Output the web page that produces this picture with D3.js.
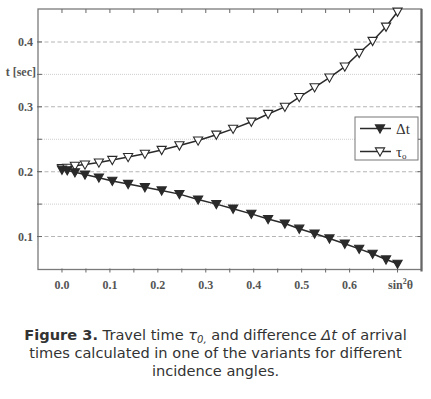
<!DOCTYPE html>
<html>
<head>
<meta charset="utf-8">
<script src="https://cdn.jsdelivr.net/npm/d3@7"></script>
<style>
  body { margin: 0; background: #fff; }
  svg { display: block; }
  .tick-label { font-family: "Liberation Serif", serif; font-weight: bold; font-size: 12px; fill: #555; }
  .caption { font-family: "DejaVu Sans", Verdana, sans-serif; font-size: 14.6px; fill: #333; }
</style>
</head>
<body>
<div id="chart"></div>
<script>
// values
const sinSq = [0.0, 0.011, 0.027, 0.048, 0.077, 0.105, 0.138, 0.173, 0.208, 0.245, 0.284, 0.322,
               0.357, 0.395, 0.43, 0.465, 0.495, 0.527, 0.558, 0.59, 0.62, 0.648, 0.676, 0.70];
const tau0 = [0.2055, 0.2058, 0.209, 0.211, 0.214, 0.218, 0.2225, 0.2275, 0.2335, 0.2405, 0.248, 0.257,
              0.266, 0.277, 0.289, 0.300, 0.315, 0.330, 0.345, 0.362, 0.383, 0.4015, 0.4235, 0.4466];
const deltaT = [0.203, 0.202, 0.199, 0.1955, 0.1908, 0.1858, 0.181, 0.176, 0.171, 0.1654, 0.157, 0.150,
                0.143, 0.135, 0.127, 0.120, 0.112, 0.1046, 0.097, 0.089, 0.081, 0.0734, 0.0646, 0.058];
const xTicks = [0.0, 0.1, 0.2, 0.3, 0.4, 0.5, 0.6];
const yMajor = [0.1, 0.2, 0.3, 0.4];
const yMinor = [0.15, 0.25, 0.35];

const W = 431, H = 399;
const plot = { left: 38, top: 9, right: 421.5, bottom: 269.5 };

const svg = d3.select("#chart").append("svg")
    .attr("width", W)
    .attr("height", H);

svg.append("rect").attr("width", W).attr("height", H).attr("fill", "#fff");

// scales
const x = d3.scaleLinear().domain([-0.05, 0.75]).range([plot.left, plot.right]);
const y = d3.scaleLinear().domain([0.0492, 0.4508]).range([plot.bottom, plot.top]);

// grid lines, dashed at major values, dotted in between
svg.append("g").selectAll("line")
    .data(yMajor)
    .enter().append("line")
    .attr("x1", plot.left).attr("x2", plot.right)
    .attr("y1", d => y(d)).attr("y2", d => y(d))
    .attr("stroke", "#b5b5b5").attr("stroke-width", 1.1)
    .attr("stroke-dasharray", "4,2.5");

svg.append("g").selectAll("line")
    .data(yMinor)
    .enter().append("line")
    .attr("x1", plot.left).attr("x2", plot.right)
    .attr("y1", d => y(d)).attr("y2", d => y(d))
    .attr("stroke", "#c8c8c8").attr("stroke-width", 0.9)
    .attr("stroke-dasharray", "1,1");

// frame
svg.append("rect")
    .attr("x", plot.left).attr("y", plot.top)
    .attr("width", plot.right - plot.left).attr("height", plot.bottom - plot.top)
    .attr("fill", "none").attr("stroke", "#7a7a7a").attr("stroke-width", 1.3);
svg.append("line")
    .attr("x1", plot.right).attr("x2", plot.right)
    .attr("y1", plot.top).attr("y2", plot.bottom + 2)
    .attr("stroke", "#666").attr("stroke-width", 2.2);

// tick marks every 0.05
const xAll = d3.range(0, 0.701, 0.05);
const yAll = d3.range(0.1, 0.401, 0.05);
const tickColor = "#666";

svg.append("g").selectAll("line")
    .data(xAll).enter().append("line")
    .attr("x1", d => x(d)).attr("x2", d => x(d))
    .attr("y1", plot.bottom - 1).attr("y2", plot.bottom + 3)
    .attr("stroke", tickColor).attr("stroke-width", 1);
svg.append("g").selectAll("line")
    .data(xAll).enter().append("line")
    .attr("x1", d => x(d)).attr("x2", d => x(d))
    .attr("y1", plot.top).attr("y2", plot.top + 4)
    .attr("stroke", tickColor).attr("stroke-width", 1);
svg.append("g").selectAll("line")
    .data(yAll).enter().append("line")
    .attr("x1", plot.left - 1).attr("x2", plot.left + 4)
    .attr("y1", d => y(d)).attr("y2", d => y(d))
    .attr("stroke", tickColor).attr("stroke-width", 1);
svg.append("g").selectAll("line")
    .data(yAll).enter().append("line")
    .attr("x1", plot.right - 4).attr("x2", plot.right)
    .attr("y1", d => y(d)).attr("y2", d => y(d))
    .attr("stroke", tickColor).attr("stroke-width", 1);

// tick labels
svg.append("g").selectAll("text")
    .data(yMajor).enter().append("text")
    .attr("class", "tick-label")
    .attr("x", 33).attr("y", d => y(d))
    .attr("dy", "0.33em")
    .attr("text-anchor", "end")
    .text(d => d.toFixed(1));

svg.append("g").selectAll("text")
    .data(xTicks).enter().append("text")
    .attr("class", "tick-label")
    .attr("x", d => x(d)).attr("y", 288.5)
    .attr("text-anchor", "middle")
    .text(d => d.toFixed(1));

// axis titles
svg.append("text")
    .attr("class", "tick-label")
    .attr("x", 36).attr("y", y(0.35))
    .attr("dy", "0.15em")
    .attr("text-anchor", "end")
    .text("t [sec]");

const xt = svg.append("text")
    .attr("class", "tick-label")
    .attr("x", x(0.7) + 3).attr("y", 288.5)
    .attr("text-anchor", "middle");
xt.append("tspan").text("sin");
xt.append("tspan").attr("font-size", "8px").attr("dy", "-5").text("2");
xt.append("tspan").attr("dy", "5").text("θ");

// series
const line = d3.line().x(d => x(d[0])).y(d => y(d[1]));
const tauData = sinSq.map((s, i) => [s, tau0[i]]);
const dtData = sinSq.map((s, i) => [s, deltaT[i]]);

// downward triangle path centred at 0,0
const tri = "M-4.6,-3.6 L4.6,-3.6 L0,4.6 Z";

function drawSeries(data, fill) {
    svg.append("path")
        .datum(data)
        .attr("d", line)
        .attr("fill", "none")
        .attr("stroke", "#2a2a2a")
        .attr("stroke-width", 1.5);
    svg.append("g").selectAll("path")
        .data(data).enter().append("path")
        .attr("d", tri)
        .attr("transform", d => `translate(${x(d[0])},${y(d[1])})`)
        .attr("fill", fill)
        .attr("stroke", "#2a2a2a")
        .attr("stroke-width", 1.1);
}
drawSeries(tauData, "#fff");
drawSeries(dtData, "#2a2a2a");

// legend
const legend = svg.append("g");
legend.append("rect")
    .attr("x", 355).attr("y", 117)
    .attr("width", 63).attr("height", 43)
    .attr("fill", "#fff").attr("stroke", "#777").attr("stroke-width", 1);

const legendItems = [
    { label: "Δt", fill: "#2a2a2a", y: 128.5 },
    { label: "τ", fill: "#fff", y: 151.5, sub: "o" }
];
legendItems.forEach(it => {
    legend.append("line")
        .attr("x1", 360).attr("x2", 391)
        .attr("y1", it.y).attr("y2", it.y)
        .attr("stroke", "#2a2a2a").attr("stroke-width", 1.5);
    legend.append("path")
        .attr("d", tri)
        .attr("transform", `translate(380,${it.y})`)
        .attr("fill", it.fill).attr("stroke", "#2a2a2a").attr("stroke-width", 1.1);
    const t = legend.append("text")
        .attr("x", 396).attr("y", it.y)
        .attr("dy", "0.35em")
        .attr("font-family", "Liberation Serif, serif")
        .attr("font-size", "15px")
        .attr("fill", "#333")
        .text(it.label);
    if (it.sub) {
        t.append("tspan").attr("font-size", "9px").attr("dy", "2").text(it.sub);
    }
});

// caption
const cap1 = svg.append("text").attr("class", "caption")
    .attr("x", W / 2).attr("y", 340).attr("text-anchor", "middle");
cap1.append("tspan").attr("font-weight", "bold").text("Figure 3.");
cap1.append("tspan").text(" Travel time ");
cap1.append("tspan").attr("font-style", "italic").text("τ");
cap1.append("tspan").attr("font-style", "italic").attr("font-size", "10px").attr("dy", "3").text("0,");
cap1.append("tspan").attr("dy", "-3").text(" and difference ");
cap1.append("tspan").attr("font-style", "italic").text("Δt");
cap1.append("tspan").text(" of arrival");

svg.append("text").attr("class", "caption")
    .attr("x", W / 2).attr("y", 358).attr("text-anchor", "middle")
    .text("times calculated in one of the variants for different");

svg.append("text").attr("class", "caption")
    .attr("x", W / 2).attr("y", 376).attr("text-anchor", "middle")
    .text("incidence angles.");
</script>
</body>
</html>
